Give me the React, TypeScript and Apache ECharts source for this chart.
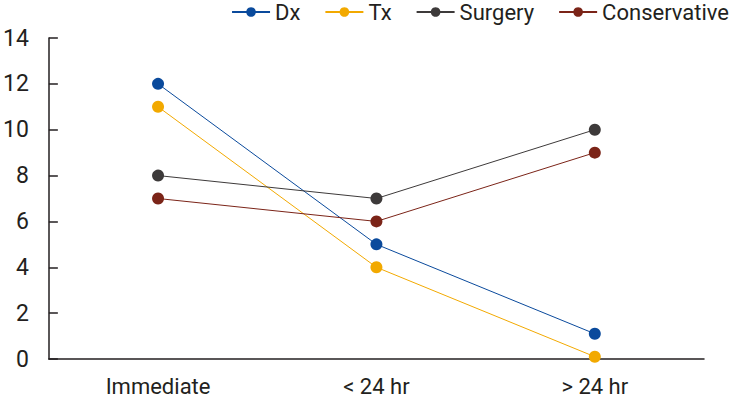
import React, { useEffect, useRef } from "react";
import * as echarts from "echarts";

const categories = ["Immediate", "< 24 hr", "> 24 hr"];
const dx = [12, 5, 1.1];
const tx = [11, 4, 0.1];
const surgery = [8, 7, 10];
const conservative = [7, 6, 9];

const FONT = "Roboto, sans-serif";

export default function App() {
  const ref = useRef<HTMLDivElement>(null);
  useEffect(() => {
    const chart = echarts.init(ref.current!, null, { renderer: "svg" });
    const mk = (name: string, data: number[], color: string) => ({
      name,
      type: "line",
      data,
      symbol: "circle",
      symbolSize: 12,
      itemStyle: { color },
      lineStyle: { color, width: 1 },
    });
    chart.setOption({
      animation: false,
      textStyle: { fontFamily: FONT },
      legend: {
        right: 0,
        top: -4,
        itemWidth: 38,
        itemHeight: 12,
        itemGap: 24,
        textStyle: { fontSize: 22, color: "#231f20", fontFamily: FONT },
        data: ["Dx", "Tx", "Surgery", "Conservative"],
      },
      grid: { left: 43, right: 30, top: 38, bottom: 42 },
      xAxis: {
        type: "category",
        data: categories,
        boundaryGap: true,
        axisLine: { lineStyle: { color: "#231f20", width: 1.5 } },
        axisTick: { alignWithLabel: true, inside: true, length: 9, lineStyle: { color: "#231f20", width: 1.5 } },
        axisLabel: { fontSize: 22, color: "#231f20", margin: 16, fontFamily: FONT },
      },
      yAxis: {
        type: "value",
        min: 0,
        max: 14,
        interval: 2,
        splitLine: { show: false },
        axisLine: { show: true, lineStyle: { color: "#231f20", width: 1.5 } },
        axisTick: { show: true, inside: true, length: 9, lineStyle: { color: "#231f20", width: 1.5 } },
        axisLabel: { fontSize: 23, color: "#231f20", margin: 20, fontFamily: FONT },
      },
      series: [
        mk("Dx", dx, "#0a4a9c"),
        mk("Tx", tx, "#f2a900"),
        mk("Surgery", surgery, "#3d3a3a"),
        mk("Conservative", conservative, "#7b2418"),
      ],
    });
    return () => chart.dispose();
  }, []);
  return <div ref={ref} style={{ width: 734, height: 401, position: "absolute", left: 0, top: 0 }} />;
}
